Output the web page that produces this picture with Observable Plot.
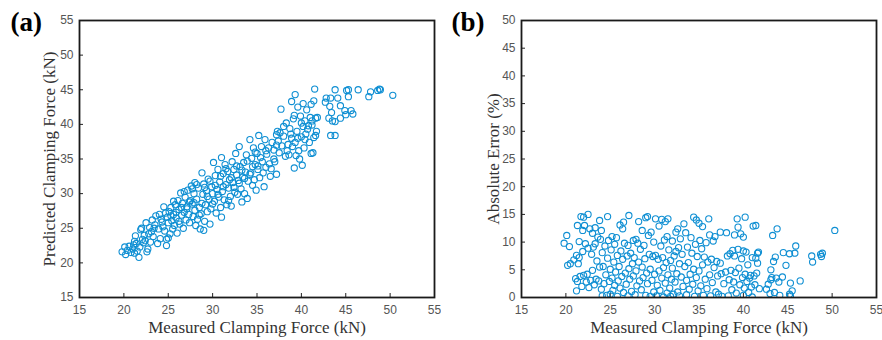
<!DOCTYPE html>
<html><head><meta charset="utf-8">
<script src="https://cdn.jsdelivr.net/npm/d3@7"></script>
<script src="https://cdn.jsdelivr.net/npm/@observablehq/plot@0.6"></script>
<style>body{margin:0;background:#fff}#wrap{display:flex;width:882px;height:340px;overflow:hidden}</style>
</head><body><div id="wrap"></div>
<script>
const xTicks = [15, 20, 25, 30, 35, 40, 45, 50, 55];
const yTicksA = [15, 20, 25, 30, 35, 40, 45, 50, 55];
const yTicksB = [0, 5, 10, 15, 20, 25, 30, 35, 40, 45, 50];
const xTitle = "Measured Clamping Force (kN)";
const yTitleA = "Predicted Clamping Force (kN)";
const yTitleB = "Absolute Error (%)";
const labels = ["(a)", "(b)"];

// Panel (a): [measured, predicted] in kN
const pointsA = [
[19.8,21.6],[20.1,22.3],[20.2,21.2],[20.4,21.8],[20.6,22.4],[20.8,21.5],[21.0,22.0],[21.1,22.6],[21.2,21.4],[21.2,23.1],
[21.3,23.9],[21.4,22.8],[21.5,21.7],[21.7,20.8],[21.8,22.3],[21.9,24.8],[22.0,25.0],[22.1,23.4],[22.2,22.9],[22.3,24.0],
[22.4,23.2],[22.5,25.8],[22.6,21.6],[22.7,22.0],[22.8,24.2],[22.9,25.1],[23.0,23.0],[23.1,24.5],[23.2,26.2],[23.3,23.8],
[23.4,25.0],[23.5,25.5],[23.6,26.8],[23.8,22.8],[23.9,24.9],[24.0,27.0],[24.1,23.5],[24.2,26.3],[24.3,25.9],[24.4,25.2],
[24.5,28.1],[24.6,24.6],[24.7,27.2],[24.8,22.5],[24.8,23.4],[24.9,26.6],[25.0,25.8],[25.0,23.6],[25.1,27.4],[25.2,24.2],
[25.3,28.0],[25.3,26.8],[25.4,26.1],[25.5,24.9],[25.6,27.0],[25.6,28.9],[25.7,25.4],[25.8,28.4],[25.9,26.5],[25.9,27.3],
[26.0,24.3],[26.1,29.0],[26.2,27.7],[26.2,26.0],[26.3,25.6],[26.4,30.1],[26.5,26.9],[26.5,28.0],[26.6,28.6],[26.7,25.0],
[26.8,27.3],[26.8,30.3],[26.9,29.5],[27.0,26.2],[27.1,28.1],[27.1,27.8],[27.2,30.5],[27.3,27.0],[27.4,25.8],[27.4,28.8],
[27.5,29.0],[27.6,31.1],[27.7,28.5],[27.7,30.7],[27.8,26.7],[27.9,30.0],[27.9,28.7],[28.0,27.6],[28.0,31.6],[28.1,25.4],
[28.2,29.2],[28.2,31.3],[28.3,26.3],[28.4,30.8],[28.5,28.0],[28.5,26.9],[28.6,24.9],[28.7,27.1],[28.8,33.0],[28.8,28.6],
[28.9,29.9],[29.0,31.4],[29.0,24.7],[29.1,26.0],[29.1,30.9],[29.2,28.4],[29.3,30.4],[29.4,27.4],[29.4,29.6],[29.5,32.1],
[29.6,29.2],[29.7,25.6],[29.7,31.8],[29.8,27.8],[29.9,31.0],[30.0,30.0],[30.0,28.5],[30.1,34.5],[30.2,28.9],[30.3,32.6],
[30.3,31.2],[30.4,27.2],[30.5,30.6],[30.6,33.5],[30.6,29.9],[30.7,29.5],[30.8,31.7],[30.9,28.0],[30.9,32.5],[31.0,26.6],
[31.0,35.2],[31.1,30.3],[31.2,32.9],[31.2,31.0],[31.3,29.1],[31.4,34.2],[31.5,31.3],[31.5,33.6],[31.6,28.4],[31.7,33.2],
[31.8,30.8],[31.8,29.0],[31.9,32.0],[32.0,29.6],[32.1,28.2],[32.1,32.3],[32.2,34.6],[32.3,31.6],[32.4,33.5],[32.4,30.9],
[32.5,30.2],[32.6,35.8],[32.7,32.7],[32.7,34.0],[32.8,29.9],[32.9,31.9],[33.0,36.8],[33.0,31.5],[33.1,33.9],[33.2,30.7],
[33.3,28.8],[33.3,33.4],[33.4,32.4],[33.5,34.5],[33.6,30.0],[33.6,32.2],[33.7,33.1],[33.8,35.6],[33.9,29.3],[33.9,34.7],
[34.0,31.8],[34.2,37.8],[34.2,32.8],[34.3,33.0],[34.4,35.1],[34.5,31.2],[34.5,33.9],[34.6,36.6],[34.7,32.0],[34.8,34.2],
[34.8,36.0],[34.9,30.5],[35.0,35.8],[35.1,33.5],[35.1,34.0],[35.2,38.4],[35.3,32.3],[35.4,35.2],[35.5,36.8],[35.6,34.6],
[35.7,33.0],[35.8,31.0],[35.9,37.8],[36.0,33.8],[36.0,36.2],[36.1,35.7],[36.3,36.6],[36.4,34.3],[36.5,32.5],[36.6,33.6],
[36.7,37.4],[36.9,35.0],[36.9,36.3],[37.0,34.6],[37.2,32.8],[37.2,38.5],[37.2,37.0],[37.3,39.0],[37.4,37.6],[37.5,35.9],
[37.6,38.8],[37.7,42.2],[37.8,36.9],[38.0,38.3],[38.0,39.7],[38.2,35.4],[38.3,40.2],[38.4,36.2],[38.5,37.1],[38.6,35.6],
[38.7,39.4],[38.8,38.6],[38.9,43.3],[38.9,38.0],[39.0,36.8],[39.1,40.8],[39.2,33.7],[39.2,41.3],[39.3,44.3],[39.3,37.4],
[39.4,35.5],[39.5,39.0],[39.6,42.5],[39.6,38.0],[39.7,36.2],[39.8,35.0],[39.9,41.2],[40.0,38.2],[40.0,40.2],[40.1,34.1],
[40.2,39.7],[40.2,43.0],[40.3,36.6],[40.4,40.5],[40.4,37.8],[40.5,38.6],[40.6,42.1],[40.7,39.3],[40.8,39.8],[40.9,37.4],
[41.0,41.0],[41.1,35.8],[41.1,42.9],[41.2,39.9],[41.2,40.5],[41.3,35.9],[41.4,43.4],[41.4,38.1],[41.5,45.1],[41.6,40.9],
[41.6,38.4],[41.7,39.0],[41.8,41.0],[42.7,43.2],[42.8,43.8],[43.1,40.9],[43.2,42.6],[43.3,38.4],[43.3,43.8],[43.4,41.7],
[43.5,40.5],[43.8,40.4],[43.8,38.4],[43.8,45.0],[44.1,43.8],[44.4,42.7],[44.4,40.9],[44.9,42.0],[45.0,41.4],[45.1,44.9],
[45.3,45.0],[45.3,44.0],[45.6,42.0],[45.8,41.5],[46.4,45.0],[47.6,44.0],[47.8,44.7],[48.6,44.9],[48.8,45.1],[48.9,45.0],
[50.3,44.2]
];

// Panel (b): [measured kN, absolute error %]
const pointsB = [
[19.8,9.8],[20.1,11.2],[20.2,5.8],[20.4,9.2],[20.5,6.1],[20.9,6.8],[21.1,3.4],[21.2,7.6],[21.2,1.2],[21.3,13.0],
[21.3,2.9],[21.4,6.1],[21.5,10.1],[21.5,7.2],[21.6,3.8],[21.7,14.6],[21.8,2.0],[21.9,12.1],[21.9,8.3],[22.0,14.5],
[22.0,4.0],[22.1,13.0],[22.2,9.7],[22.3,2.8],[22.4,4.2],[22.5,15.0],[22.5,8.9],[22.6,1.8],[22.7,12.4],[22.8,3.1],
[22.9,7.8],[23.0,11.6],[23.0,4.9],[23.1,9.1],[23.2,2.3],[23.3,12.6],[23.3,9.7],[23.4,3.3],[23.5,6.6],[23.6,10.9],
[23.7,3.0],[23.8,13.9],[23.8,5.5],[23.9,10.5],[24.0,12.1],[24.0,1.5],[24.1,8.1],[24.1,0.3],[24.2,5.6],[24.3,2.5],
[24.4,9.3],[24.5,4.1],[24.6,0.4],[24.7,14.6],[24.7,7.1],[24.8,10.3],[24.9,2.9],[25.0,5.1],[25.0,0.6],[25.1,8.6],
[25.2,11.0],[25.2,3.5],[25.3,1.3],[25.4,6.4],[25.5,9.6],[25.5,2.2],[25.6,4.6],[25.7,10.8],[25.8,0.2],[25.8,7.6],
[25.9,3.0],[26.0,5.6],[26.1,13.1],[26.1,1.7],[26.2,8.4],[26.3,3.8],[26.4,12.4],[26.4,6.9],[26.5,13.6],[26.5,0.9],
[26.6,9.8],[26.7,4.4],[26.8,2.4],[26.9,7.5],[27.0,9.4],[27.0,0.3],[27.1,14.8],[27.1,5.2],[27.2,3.3],[27.3,8.0],
[27.4,1.1],[27.5,6.1],[27.6,10.3],[27.6,3.9],[27.7,7.2],[27.8,0.5],[27.9,10.5],[27.9,4.8],[28.0,2.1],[28.1,9.8],
[28.2,13.7],[28.2,6.4],[28.3,3.0],[28.4,8.7],[28.5,1.4],[28.6,12.1],[28.6,5.5],[28.7,3.6],[28.8,9.4],[28.9,7.0],
[29.0,14.4],[29.0,0.4],[29.1,4.4],[29.2,14.6],[29.2,2.5],[29.3,11.2],[29.4,7.8],[29.5,0.2],[29.5,5.1],[29.6,11.8],
[29.7,3.1],[29.8,7.4],[29.9,1.0],[29.9,10.0],[30.0,4.2],[30.1,14.2],[30.1,7.6],[30.2,0.3],[30.3,2.2],[30.4,6.9],
[30.5,12.9],[30.5,4.8],[30.6,1.3],[30.7,9.3],[30.8,14.1],[30.8,3.5],[30.9,7.2],[31.0,0.1],[31.0,5.4],[31.1,10.4],
[31.2,13.7],[31.2,2.6],[31.3,6.3],[31.4,11.0],[31.4,0.8],[31.5,14.2],[31.5,4.1],[31.6,8.6],[31.7,1.7],[31.8,6.7],
[31.8,0.2],[31.9,3.3],[32.0,10.2],[32.0,5.3],[32.1,0.6],[32.2,7.5],[32.3,2.8],[32.4,11.8],[32.4,8.3],[32.5,4.3],
[32.6,12.4],[32.6,1.0],[32.7,9.0],[32.8,6.1],[32.8,0.3],[32.9,10.6],[33.0,3.7],[33.1,7.8],[33.2,2.0],[33.3,13.3],
[33.4,5.6],[33.5,11.7],[33.6,3.1],[33.6,0.5],[33.7,9.1],[33.8,6.3],[33.9,1.5],[34.0,4.2],[34.1,10.8],[34.2,8.0],
[34.3,2.4],[34.4,14.5],[34.4,5.1],[34.5,0.2],[34.6,9.6],[34.7,14.0],[34.7,3.6],[34.8,7.4],[34.9,1.2],[35.0,13.4],
[35.0,4.8],[35.1,10.3],[35.2,2.1],[35.3,8.8],[35.4,12.8],[35.4,5.9],[35.5,0.4],[35.6,7.3],[35.7,3.3],[35.8,9.9],
[35.9,1.6],[36.0,6.4],[36.1,14.2],[36.2,11.3],[36.2,4.1],[36.3,0.3],[36.4,6.9],[36.5,2.7],[36.6,10.2],[36.7,5.4],
[36.8,11.0],[36.9,1.0],[37.0,6.5],[37.1,3.9],[37.2,0.6],[37.4,11.8],[37.4,6.2],[37.5,4.3],[37.6,0.2],[37.8,2.5],
[38.0,4.6],[38.1,11.7],[38.2,7.5],[38.3,0.3],[38.4,3.2],[38.5,7.9],[38.6,4.9],[38.7,1.4],[38.8,8.5],[38.9,2.8],
[39.0,11.3],[39.0,7.5],[39.1,4.5],[39.2,0.8],[39.3,14.2],[39.4,12.7],[39.4,8.7],[39.5,5.3],[39.6,2.3],[39.7,11.5],
[39.8,7.0],[39.9,3.6],[40.0,10.9],[40.0,8.4],[40.0,0.4],[40.1,1.7],[40.2,14.5],[40.2,4.2],[40.3,8.2],[40.4,2.9],
[40.5,5.9],[40.6,0.9],[40.7,3.5],[40.8,4.0],[40.9,1.9],[41.0,7.2],[41.0,0.1],[41.1,12.9],[41.2,3.9],[41.3,2.3],
[41.4,13.0],[41.4,7.1],[41.5,4.4],[41.6,8.0],[41.6,6.2],[41.7,8.2],[41.8,1.6],[42.6,1.5],[42.8,2.4],[43.0,0.7],
[43.1,5.0],[43.1,3.2],[43.2,3.6],[43.3,11.2],[43.4,6.5],[43.5,0.9],[43.6,7.3],[43.7,3.5],[43.8,12.4],[44.0,2.8],
[44.1,0.4],[44.4,3.7],[44.5,8.1],[44.8,5.8],[45.2,7.9],[45.2,0.6],[45.3,2.6],[45.3,0.3],[45.5,1.2],[45.8,8.0],
[45.9,9.3],[46.4,3.0],[47.7,7.5],[47.8,6.4],[48.7,7.8],[48.8,7.4],[48.9,8.0],[50.3,12.1]
];

const serif = "'Liberation Serif', 'Times New Roman', serif";
const blue = "#0f8fd3";

function panel({points, yDomain, yTicks, letter, yTitle, ml, mr, ytdx}) {
  const W = 441, H = 340, mt = 20, mb = 43;
  const fw = W - ml - mr, fh = H - mt - mb;
  return Plot.plot({
    width: W, height: H,
    marginLeft: ml, marginRight: mr, marginTop: mt, marginBottom: mb,
    style: {fontFamily: "'Liberation Sans', Arial, sans-serif", fontSize: "12px", background: "#fff", overflow: "visible"},
    x: {type: "linear", domain: [15, 55]},
    y: {type: "linear", domain: yDomain},
    marks: [
      Plot.axisX(xTicks, {tickSize: 0, tickPadding: 8, fill: "#555", label: null}),
      Plot.axisY(yTicks, {tickSize: 0, tickPadding: 6, fill: "#555", label: null}),
      Plot.tickX(xTicks.slice(1, -1), {x: d => d, insetTop: fh - 4, stroke: "#222", strokeWidth: 1}),
      Plot.tickY(yTicks.slice(1, -1), {y: d => d, insetRight: fw - 4, stroke: "#222", strokeWidth: 1}),
      Plot.dot(points, {x: d => d[0], y: d => d[1], r: 3.1, stroke: blue, strokeWidth: 1.1, fill: "none", clip: true}),
      Plot.frame({stroke: "#1a1a1a", strokeWidth: 1.8}),
      Plot.text([xTitle], {text: d => d, frameAnchor: "bottom", dy: 30, textAnchor: "middle", lineAnchor: "middle", fontFamily: serif, fontSize: 17, fill: "#333"}),
      Plot.text([yTitle], {text: d => d, frameAnchor: "left", dx: ytdx, rotate: -90, textAnchor: "middle", lineAnchor: "middle", fontFamily: serif, fontSize: 17, fill: "#333"}),
      Plot.text([letter], {text: d => d, frameAnchor: "top-left", dx: 10 - ml, dy: 2, textAnchor: "start", lineAnchor: "middle", fontFamily: serif, fontWeight: "bold", fontSize: 27, fill: "#000"})
    ]
  });
}

const wrap = document.getElementById("wrap");
wrap.append(panel({points: pointsA, yDomain: [15, 55], yTicks: yTicksA, letter: labels[0], yTitle: yTitleA, ml: 79, mr: 7, ytdx: -30}));
wrap.append(panel({points: pointsB, yDomain: [0, 50], yTicks: yTicksB, letter: labels[1], yTitle: yTitleB, ml: 80, mr: 6, ytdx: -28}));
</script>
</body></html>
